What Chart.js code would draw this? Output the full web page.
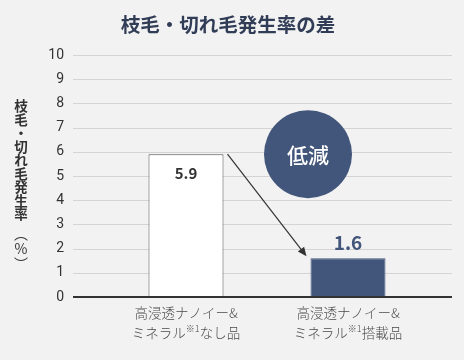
<!DOCTYPE html>
<html>
<head>
<meta charset="utf-8">
<script src="https://cdn.jsdelivr.net/npm/chart.js@4.4.0/dist/chart.umd.min.js"></script>
<style>
  html,body{margin:0;padding:0;background:#f2f2f2;}
  #wrap{width:464px;height:360px;}
</style>
</head>
<body>
<div id="wrap"><canvas id="c" width="464" height="360"></canvas></div>
<script>
const title = '枝毛・切れ毛発生率の差';
const yTitle = ['枝','毛','・','切','れ','毛','発','生','率'];
const yUnit = ['︵', '%', '︶'];
const categories = [
  ['高浸透ナノイー&', 'ミネラル※1なし品'],
  ['高浸透ナノイー&', 'ミネラル※1搭載品']
];
const values = [5.9, 1.6];
const yTicks = [0,1,2,3,4,5,6,7,8,9,10];
const badge = '低減';

const NAVY = '#42557a';
const JP = '"Noto Sans CJK JP", "Noto Sans", sans-serif';

// one label line; "※1" is set small and raised
function drawLabelLine(ctx, text, cx, cy){
  const parts = text.split('※1');
  const big = '300 13.5px ' + JP, small = '300 9px ' + JP;
  ctx.font = big; const w0 = ctx.measureText(parts[0]).width;
  const w2 = parts.length > 1 ? ctx.measureText(parts[1]).width : 0;
  ctx.font = small; const w1 = parts.length > 1 ? ctx.measureText('※1').width : 0;
  let x = cx - (w0 + w1 + w2)/2;
  ctx.textAlign = 'left'; ctx.textBaseline = 'middle';
  ctx.font = big; ctx.fillText(parts[0], x, cy); x += w0;
  if(parts.length > 1){
    ctx.font = small; ctx.fillText('※1', x, cy - 4); x += w1;
    ctx.font = big; ctx.fillText(parts[1], x, cy);
  }
}

const extras = {
  id: 'extras',
  beforeDatasetsDraw(chart){
    const {ctx, chartArea:a, scales:{y}} = chart;
    ctx.save();
    ctx.strokeStyle = '#d4d4d4'; ctx.lineWidth = 1;
    yTicks.forEach(v => {
      if(v === 0) return;
      const py = Math.round(y.getPixelForValue(v)) + 0.5;
      ctx.beginPath(); ctx.moveTo(a.left - 32, py); ctx.lineTo(a.right + 23, py); ctx.stroke();
    });
    ctx.restore();
  },
  afterDatasetsDraw(chart){
    const {ctx, chartArea:a, scales:{x, y}} = chart;
    const bars = chart.getDatasetMeta(0).data;
    ctx.save();
    // title
    ctx.fillStyle = '#313d57'; ctx.font = 'bold 19.5px ' + JP;
    ctx.textAlign = 'center'; ctx.textBaseline = 'middle';
    ctx.fillText(title, 228, 25);

    // baseline
    const y0 = y.getPixelForValue(0);
    ctx.strokeStyle = '#333'; ctx.lineWidth = 2;
    ctx.beginPath(); ctx.moveTo(a.left - 32, y0); ctx.lineTo(a.right + 23, y0); ctx.stroke();

    // value labels
    ctx.fillStyle = '#333'; ctx.font = '600 15px ' + JP;
    ctx.fillText(values[0].toFixed(1), bars[0].x, y.getPixelForValue(values[0]) + 19);
    ctx.fillStyle = NAVY; ctx.font = '600 19px ' + JP;
    ctx.fillText(values[1].toFixed(1), bars[1].x, y.getPixelForValue(values[1]) - 15);

    // arrow
    const b0 = bars[0].getProps(['x','width']), b1 = bars[1].getProps(['x','width']);
    const sx = b0.x + b0.width/2 + 4, sy = y.getPixelForValue(values[0]);
    const ex = b1.x - b1.width/2 - 4, ey = y.getPixelForValue(values[1]) - 2;
    ctx.strokeStyle = '#333'; ctx.fillStyle = '#333'; ctx.lineWidth = 1.2;
    const ang = Math.atan2(ey - sy, ex - sx);
    ctx.beginPath(); ctx.moveTo(sx, sy); ctx.lineTo(ex - 6*Math.cos(ang), ey - 6*Math.sin(ang)); ctx.stroke();
    ctx.beginPath();
    ctx.moveTo(ex, ey);
    ctx.lineTo(ex - 9*Math.cos(ang) + 4*Math.sin(ang), ey - 9*Math.sin(ang) - 4*Math.cos(ang));
    ctx.lineTo(ex - 9*Math.cos(ang) - 4*Math.sin(ang), ey - 9*Math.sin(ang) + 4*Math.cos(ang));
    ctx.closePath(); ctx.fill();

    // badge
    const cx = x.getPixelForValue(1) - 40, cy = y.getPixelForValue(5.9);
    ctx.fillStyle = NAVY;
    ctx.beginPath(); ctx.arc(cx, cy, 44, 0, Math.PI*2); ctx.fill();
    ctx.fillStyle = '#fff'; ctx.font = '500 21px ' + JP;
    ctx.fillText(badge, cx, cy + 1);

    // category labels
    ctx.fillStyle = '#4a4a4a';
    categories.forEach((lines, i) => {
      const px = x.getPixelForValue(i);
      lines.forEach((ln, j) => drawLabelLine(ctx, ln, px, y0 + 16 + j*20));
    });

    // vertical y title, upright characters
    ctx.fillStyle = '#333'; ctx.font = 'bold 13.5px ' + JP;
    ctx.textAlign = 'center'; ctx.textBaseline = 'middle';
    yTitle.forEach((ch, i) => ctx.fillText(ch, 21, 106 + i*13.5));
    ctx.font = '14px ' + JP;
    [234, 249, 264].forEach((py, i) => ctx.fillText(yUnit[i], 21, py));
    ctx.restore();
  }
};

new Chart(document.getElementById('c').getContext('2d'), {
  type: 'bar',
  data: {
    labels: categories,
    datasets: [{
      data: values,
      backgroundColor: ['#ffffff', NAVY],
      borderColor: ['#555', NAVY],
      borderWidth: 1,
      barPercentage: 0.463,
      categoryPercentage: 1
    }]
  },
  options: {
    responsive: false,
    animation: false,
    layout: { padding: { left: 30, right: 35, top: 55, bottom: 63 } },
    plugins: {
      legend: { display: false },
      tooltip: { enabled: false },
      title: { display: false }
    },
    scales: {
      x: {
        afterFit: s => { s.height = 0; },
        grid: { display: false }, border: { display: false }, ticks: { display: false }
      },
      y: {
        min: 0, max: 10,
        afterBuildTicks: s => { s.ticks = yTicks.map(v => ({ value: v })); },
        afterFit: s => { s.width = 75; },
        grid: { display: false }, border: { display: false },
        ticks: { color: '#333', padding: 33, font: { family: 'Roboto, sans-serif', size: 14 } }
      }
    }
  },
  plugins: [extras]
});
</script>
</body>
</html>
